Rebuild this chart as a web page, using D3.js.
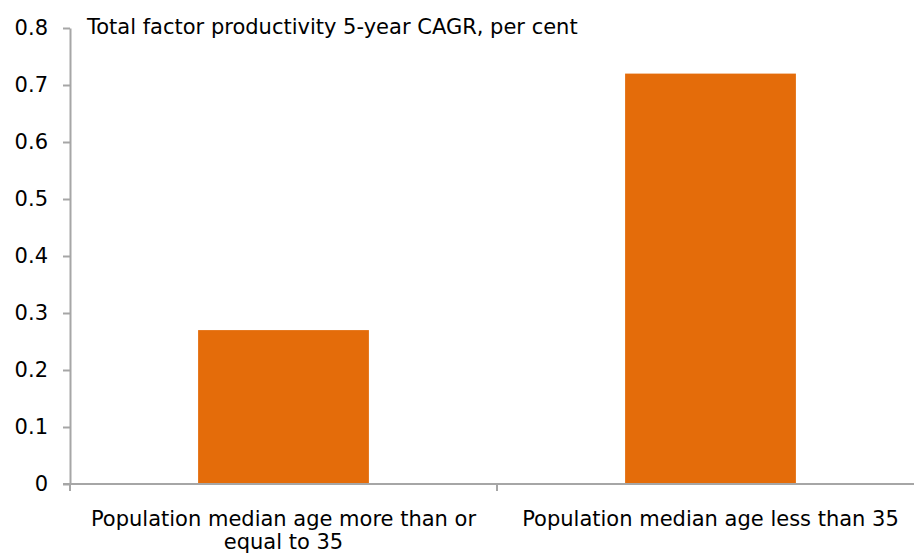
<!DOCTYPE html>
<html>
<head>
<meta charset="utf-8">
<script src="https://cdn.jsdelivr.net/npm/d3@7"></script>
<style>
  body { margin: 0; background: #fff; }
  svg { display: block; }
  text { font-family: "DejaVu Sans", sans-serif; fill: #000; }
</style>
</head>
<body>
<div id="chart"></div>
<script>
var categories = [
  ["Population median age more than or", "equal to 35"],
  ["Population median age less than 35"]
]
var values = [0.27, 0.72]
var yTicks = [0, 0.1, 0.2, 0.3, 0.4, 0.5, 0.6, 0.7, 0.8]
var title = "Total factor productivity 5-year CAGR, per cent"

var width = 914
var height = 557
var plotLeft = 70, plotRight = 924, plotTop = 28, plotBottom = 484
var axisColor = '#a6a6a6'

var svg = d3.select('#chart').append('svg')
  .attr('width', width).attr('height', height)

var x = d3.scaleBand()
  .domain(d3.range(values.length))
  .range([plotLeft, plotRight])
  .paddingInner(0.6)
  .paddingOuter(0.3)

var y = d3.scaleLinear().domain([0, 0.8]).range([plotBottom, plotTop])

// bars
svg.append('g').selectAll('rect')
  .data(values)
  .enter().append('rect')
  .attr('x', function(d, i) { return x(i) })
  .attr('width', x.bandwidth())
  .attr('y', function(d) { return y(d) })
  .attr('height', function(d) { return y(0) - y(d) })
  .attr('fill', '#e46c0a')

// y axis
var yAxis = svg.append('g')
  .attr('transform', 'translate(' + plotLeft + ',0)')
  .call(d3.axisLeft(y).tickValues(yTicks).tickSize(7).tickPadding(15).tickSizeOuter(0)
    .tickFormat(function(d) { return d === 0 ? '0' : d3.format('.1f')(d) }))
yAxis.select('.domain').attr('stroke', axisColor).attr('stroke-width', 2)
yAxis.selectAll('.tick line').attr('stroke', axisColor).attr('stroke-width', 2)
yAxis.selectAll('.tick text')
  .attr('font-size', 21)
  .style('font-family', '"DejaVu Sans", sans-serif')
  .attr('fill', '#000')

// x axis
var xAxis = svg.append('g')
  .attr('transform', 'translate(0,' + plotBottom + ')')
xAxis.append('line')
  .attr('x1', plotLeft - 7).attr('x2', plotRight)
  .attr('stroke', axisColor).attr('stroke-width', 2)
var xTickPos = d3.range(values.length + 1).map(function(i) { return plotLeft + i * x.step() })
xAxis.selectAll('line.tk')
  .data(xTickPos)
  .enter().append('line')
  .attr('class', 'tk')
  .attr('x1', function(d) { return d }).attr('x2', function(d) { return d })
  .attr('y1', 0).attr('y2', 7)
  .attr('stroke', axisColor).attr('stroke-width', 2)

var labels = svg.append('g').selectAll('text')
  .data(categories)
  .enter().append('text')
  .attr('text-anchor', 'middle')
  .attr('font-size', 21)
  .attr('transform', function(d, i) {
    return 'translate(' + (x(i) + x.bandwidth() / 2) + ',526)'
  })
labels.selectAll('tspan')
  .data(function(d) { return d })
  .enter().append('tspan')
  .attr('x', 0)
  .attr('dy', function(d, i) { return i === 0 ? 0 : 23 })
  .text(function(d) { return d })

// title
svg.append('text')
  .attr('x', 87).attr('y', 34)
  .attr('font-size', 21)
  .text(title)
</script>
</body>
</html>
